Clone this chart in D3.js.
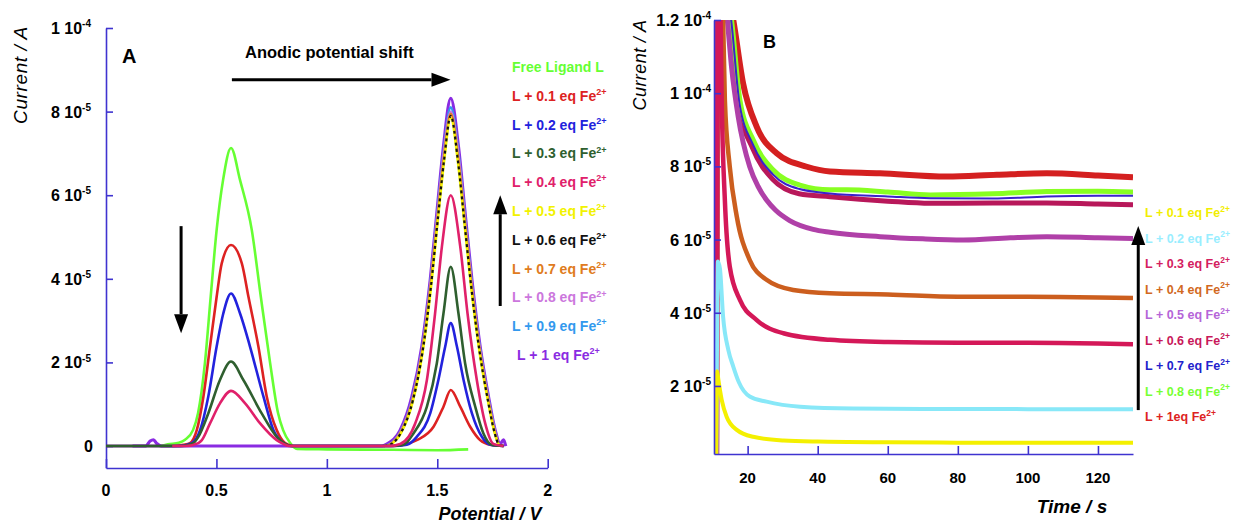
<!DOCTYPE html>
<html>
<head>
<meta charset="utf-8">
<script src="https://cdn.jsdelivr.net/npm/d3@7"></script>
<style>
  body { margin: 0; background: #fff; }
  svg text { font-family: "Liberation Sans", Arial, sans-serif; font-weight: bold; }
</style>
</head>
<body>
<div id="chart"></div>
<script>
// ---- panel A : voltammograms (potential V, current in 1e-5 A) ----
const ligandA = [[0.25,0],[0.28,0.04],[0.33,0.08],[0.358,0.15],[0.394,0.38],[0.417,0.79],[0.448,1.99],[0.474,3.57],[0.501,5.17],[0.530,6.36],[0.566,7.13],[0.607,6.36],[0.660,5.17],[0.701,3.57],[0.743,1.99],[0.779,0.79],[0.802,0.38],[0.834,0.07],[0.865,-0.07],[1.0,-0.08],[1.3,-0.09],[1.5,-0.1],[1.64,-0.08]];
const eq01A = [[0,0],[0.3,0],[0.35,0.03],[0.380,0.07],[0.411,0.38],[0.441,1.18],[0.471,2.38],[0.501,3.57],[0.524,4.37],[0.566,4.81],[0.615,4.37],[0.645,3.57],[0.690,2.38],[0.728,1.18],[0.773,0.38],[0.811,0.07],[0.85,0],[1.30,0],[1.362,0.05],[1.407,0.14],[1.483,0.46],[1.528,0.94],[1.561,1.34],[1.604,0.94],[1.649,0.46],[1.694,0.14],[1.740,0.03],[1.8,0]];
const eq02A = [[0,0],[0.33,0],[0.388,0.07],[0.426,0.38],[0.463,1.18],[0.501,2.38],[0.531,3.17],[0.566,3.65],[0.607,3.17],[0.652,2.38],[0.713,1.18],[0.758,0.38],[0.803,0.07],[0.84,0],[1.30,0],[1.362,0.03],[1.407,0.22],[1.468,0.78],[1.505,1.58],[1.536,2.38],[1.561,2.94],[1.589,2.38],[1.619,1.58],[1.657,0.78],[1.702,0.22],[1.740,0.03],[1.8,0]];
const eq03A = [[0,0],[0.34,0],[0.395,0.07],[0.418,0.22],[0.463,0.78],[0.516,1.58],[0.566,2.02],[0.622,1.58],[0.705,0.78],[0.773,0.22],[0.811,0.05],[0.84,0],[1.29,0],[1.347,0.03],[1.392,0.30],[1.453,0.94],[1.498,1.98],[1.528,3.17],[1.561,4.29],[1.596,3.17],[1.626,1.98],[1.672,0.94],[1.709,0.30],[1.747,0.03],[1.8,0]];
const eq04A = [[0.3,0],[0.36,0],[0.418,0.07],[0.434,0.14],[0.471,0.54],[0.516,1.02],[0.566,1.32],[0.630,1.02],[0.698,0.54],[0.773,0.14],[0.803,0.05],[0.83,0],[1.28,0],[1.332,0.05],[1.400,0.54],[1.453,1.58],[1.490,3.17],[1.521,4.77],[1.561,6.00],[1.604,4.77],[1.637,3.17],[1.679,1.58],[1.717,0.54],[1.754,0.05],[1.8,0]];
const eq05A = [[1.26,0],[1.285,0.03],[1.337,0.32],[1.390,1.08],[1.434,2.25],[1.471,3.75],[1.501,5.3],[1.531,6.8],[1.561,7.85],[1.593,6.8],[1.623,5.3],[1.654,3.75],[1.691,2.25],[1.729,1.08],[1.759,0.32],[1.78,0.03],[1.8,0]];
const eq06A = [[1.26,0],[1.285,0.03],[1.337,0.33],[1.390,1.1],[1.434,2.28],[1.471,3.8],[1.501,5.35],[1.531,6.85],[1.561,7.9],[1.593,6.85],[1.623,5.35],[1.654,3.8],[1.691,2.28],[1.729,1.1],[1.759,0.33],[1.78,0.03],[1.8,0]];
const eq07A = [[1.26,0],[1.283,0.03],[1.336,0.34],[1.389,1.12],[1.433,2.3],[1.470,3.85],[1.500,5.4],[1.530,6.9],[1.561,7.95],[1.594,6.9],[1.624,5.4],[1.655,3.85],[1.692,2.3],[1.730,1.12],[1.760,0.34],[1.78,0.03],[1.8,0]];
const eq08A = [[1.26,0],[1.282,0.03],[1.335,0.35],[1.388,1.13],[1.432,2.32],[1.469,3.88],[1.499,5.45],[1.529,7.0],[1.561,8.0],[1.595,7.0],[1.625,5.45],[1.656,3.88],[1.693,2.32],[1.731,1.13],[1.761,0.35],[1.78,0.03],[1.8,0]];
const eq09A = [[1.26,0],[1.28,0.03],[1.335,0.36],[1.388,1.15],[1.432,2.34],[1.469,3.9],[1.499,5.5],[1.529,7.05],[1.561,8.1],[1.595,7.05],[1.625,5.5],[1.656,3.9],[1.693,2.34],[1.731,1.15],[1.761,0.36],[1.78,0.03],[1.8,0]];
const eq10A = [[0.12,0],[0.18,0],[0.2,0.12],[0.215,0.15],[0.23,0.06],[0.25,0],[1.25,0],[1.272,0.05],[1.332,0.38],[1.385,1.18],[1.430,2.38],[1.468,3.97],[1.498,5.57],[1.528,7.16],[1.561,8.32],[1.596,7.16],[1.626,5.57],[1.657,3.97],[1.694,2.38],[1.732,1.18],[1.762,0.38],[1.785,0.05],[1.80,0.15],[1.81,0]];

const xTicksA = [0, 0.5, 1, 1.5, 2];
const xTickLabelsA = ["0", "0.5", "1", "1.5", "2"];
const yTicksA = [0, 2, 4, 6, 8, 10];
const yTickBaseA = ["0", "2 10", "4 10", "6 10", "8 10", "1 10"];
const yTickExpA = ["", "-5", "-5", "-5", "-5", "-4"];

const legendLabelsA = ["Free Ligand L", "L + 0.1 eq Fe", "L + 0.2 eq Fe", "L + 0.3 eq Fe", "L + 0.4 eq Fe", "L + 0.5 eq Fe",
  "L + 0.6 eq Fe", "L + 0.7 eq Fe", "L + 0.8 eq Fe", "L + 0.9 eq Fe", "L + 1 eq Fe"];
const legendColorsA = ["#66ff33", "#dd2222", "#2222dd", "#2f5f2f", "#e0206a", "#f2f200", "#111111", "#e07b20", "#cc77dd", "#3399ee", "#8a2be2"];

// ---- panel B : chronoamperograms (time s, current in 1e-5 A) ----
const eq01B = [[11.0,0.1],[11.3,2.4],[11.6,2.2],[12.6,1.62],[14.0,1.16],[16.9,0.80],[21.6,0.61],[30.2,0.51],[40,0.48],[60,0.46],[80,0.45],[100,0.45],[120,0.45],[130,0.45]];
const eq02B = [[11.1,0.1],[11.5,5.4],[12.1,5.2],[13.0,3.89],[14.5,2.98],[15.9,2.53],[17.5,2.1],[20.6,1.71],[25.4,1.57],[35,1.43],[50,1.38],[70,1.37],[90,1.37],[110,1.36],[130,1.36]];
const eq03B = [[11.2,0.1],[11.5,14],[12.2,12.5],[12.6,9.8],[13.5,7.08],[14.9,5.26],[17.8,4.35],[22.6,3.80],[30.2,3.44],[43.5,3.26],[60,3.2],[80,3.18],[100,3.18],[120,3.16],[130,3.14]];
const eq04B = [[11.2,0.1],[11.6,14],[13.0,12.0],[13.5,9.81],[14.9,7.99],[16.9,6.63],[20.6,5.44],[25.4,4.90],[33.0,4.62],[43.5,4.53],[60,4.5],[80,4.44],[100,4.44],[120,4.42],[130,4.40]];
const eq05B = [[11.2,0.1],[11.6,14],[14.2,12.0],[15.4,10.72],[17.3,9.36],[20.6,7.99],[23.0,7.45],[25.4,7.08],[28.0,6.8],[32.0,6.52],[38.7,6.28],[43.5,6.2],[57.8,6.08],[70,6.02],[81.6,5.99],[95,6.05],[105.4,6.08],[120,6.05],[130,6.03]];
const eq06B = [[11.0,0.1],[11.2,14],[15.2,12],[17.6,9.6],[21.4,8.5],[27.1,7.65],[34.7,7.25],[43.5,7.17],[60,7.05],[72.1,6.99],[90,7.0],[105.4,7.0],[120,6.97],[130,6.95]];
const eq07B = [[11.0,0.1],[11.2,14],[15.3,12],[17.7,9.7],[21.5,8.6],[27.2,7.78],[34.8,7.38],[43.5,7.26],[60,7.18],[72.1,7.13],[90,7.12],[105.4,7.18],[120,7.2],[130,7.2]];
const eq08B = [[11.0,0.1],[11.2,14],[15.4,12],[17.8,9.81],[21.6,8.72],[27.3,7.90],[34.9,7.49],[43.5,7.36],[48.3,7.36],[60,7.3],[72.1,7.22],[90,7.25],[105.4,7.31],[120,7.32],[130,7.30]];
const eq10B = [[10.8,0.1],[11.0,14],[15.9,12.0],[18.7,10.27],[22.6,9.08],[28.3,8.36],[36.9,7.99],[43.5,7.86],[57.8,7.81],[76.9,7.72],[91.1,7.77],[105.4,7.81],[120,7.75],[130,7.70]];

const xTicksB = [20, 40, 60, 80, 100, 120];
const yTicksB = [2, 4, 6, 8, 10, 12];
const yTickBaseB = ["2 10", "4 10", "6 10", "8 10", "1 10", "1.2 10"];
const yTickExpB = ["-5", "-5", "-5", "-5", "-4", "-4"];

const legendLabelsB = ["L + 0.1 eq Fe", "L + 0.2 eq Fe", "L + 0.3 eq Fe", "L + 0.4 eq Fe", "L + 0.5 eq Fe",
  "L + 0.6 eq Fe", "L + 0.7 eq Fe", "L + 0.8 eq Fe", "L + 1eq Fe"];
const legendColorsB = ["#f2ee00", "#99eeff", "#d42060", "#d2691e", "#b565d8", "#c8185a", "#2222cc", "#77ff33", "#dd2222"];

const axisColor = "#3f33d0";

const svg = d3.select("#chart").append("svg")
    .attr("width", 1233)
    .attr("height", 526);
svg.append("rect").attr("width", 1233).attr("height", 526).attr("fill", "#fff");

// arrow helper (annotation)
function arrow(x1, y1, x2, y2) {
    const ang = Math.atan2(y2 - y1, x2 - x1), L = 19, W = 7;
    const bx = x2 - L * Math.cos(ang), by = y2 - L * Math.sin(ang);
    svg.append("line").attr("x1", x1).attr("y1", y1).attr("x2", bx).attr("y2", by)
        .attr("stroke", "#000").attr("stroke-width", 3);
    const p = [[x2, y2],
        [bx + W * Math.sin(ang), by - W * Math.cos(ang)],
        [bx - W * Math.sin(ang), by + W * Math.cos(ang)]];
    svg.append("polygon").attr("points", p.map(d => d.join(",")).join(" ")).attr("fill", "#000");
}

function supText(g, x, y, base, exp, size, anchor, color, supSize) {
    const t = g.append("text").attr("x", x).attr("y", y)
        .attr("text-anchor", anchor).attr("fill", color).style("font-size", size + "px");
    t.append("tspan").text(base);
    if (exp) t.append("tspan").attr("dy", -size * 0.42).style("font-size", supSize + "px").text(exp);
    return t;
}

// ================= Panel A =================
const xA = d3.scaleLinear().domain([0, 2]).range([106, 547.7]);
const yA = d3.scaleLinear().domain([-0.526, 10]).range([468, 28]);

const gA = svg.append("g");
gA.append("g").attr("transform", "translate(0,468)")
    .call(d3.axisBottom(xA).tickValues(xTicksA).tickSize(-9).tickSizeOuter(0).tickFormat(""))
    .call(g => g.selectAll("path,line").attr("stroke", axisColor).attr("stroke-width", 1.6));
gA.append("g").attr("transform", "translate(106,0)")
    .call(d3.axisLeft(yA).tickValues(yTicksA).tickSize(-7).tickSizeOuter(0).tickFormat(""))
    .call(g => g.selectAll("path,line").attr("stroke", axisColor).attr("stroke-width", 1.6));

xTicksA.forEach((v, i) => {
    gA.append("text").attr("x", xA(v)).attr("y", 496).attr("text-anchor", "middle")
        .style("font-size", "16px").text(xTickLabelsA[i]);
});
yTicksA.forEach((v, i) => {
    supText(gA, i === 0 ? 93 : 91, yA(v) + 6, yTickBaseA[i], yTickExpA[i], 16, "end", "#000", 10);
});

gA.append("text").attr("transform", "translate(27,75) rotate(-90)").attr("text-anchor", "middle")
    .style("font-size", "19px").style("font-style", "italic").style("font-weight", "normal")
    .style("letter-spacing", "0.6px").text("Current / A");
gA.append("text").attr("x", 490).attr("y", 520).attr("text-anchor", "middle")
    .style("font-size", "18px").style("font-style", "italic").text("Potential / V");
gA.append("text").attr("x", 122).attr("y", 63).style("font-size", "20px").text("A");
gA.append("text").attr("x", 245).attr("y", 58).style("font-size", "16.5px").text("Anodic potential shift");

const lineA = d3.line().x(d => xA(d[0])).y(d => yA(d[1])).curve(d3.curveMonotoneX);
const seriesA = [
    {d: eq10A, c: "#8a2be2", w: 3.2},
    {d: eq09A, c: "#3399ee", w: 2.6},
    {d: eq08A, c: "#cc77dd", w: 2.4},
    {d: eq07A, c: "#e07b20", w: 2.4},
    {d: eq05A, c: "#f2f200", w: 2.4},
    {d: eq06A, c: "#111111", w: 2.2, dash: "3,3"},
    {d: ligandA, c: "#66ff33", w: 2.6},
    {d: eq01A, c: "#dd2222", w: 2.6},
    {d: eq02A, c: "#2222dd", w: 2.6},
    {d: eq03A, c: "#2f5f2f", w: 2.6},
    {d: eq04A, c: "#e0206a", w: 2.6}
];
seriesA.forEach(s => {
    gA.append("path").datum(s.d).attr("fill", "none").attr("stroke", s.c)
        .attr("stroke-width", s.w).attr("stroke-dasharray", s.dash || null)
        .attr("stroke-linejoin", "round").attr("d", lineA);
});

legendLabelsA.forEach((lab, i) => {
    const y = 72 + i * 28.8;
    supText(gA, i === 10 ? 517 : 512, y, lab, i === 0 ? "" : "2+", 14, "start", legendColorsA[i], 9);
});

arrow(xA(0.57), yA(8.76), xA(1.56), yA(8.76));
arrow(xA(0.34), yA(5.26), xA(0.34), yA(2.70));
arrow(xA(1.785), yA(3.35), xA(1.785), yA(6.0));

// ================= Panel B =================
const xB = d3.scaleLinear().domain([10.4, 130]).range([714, 1133]);
const yB = d3.scaleLinear().domain([0.14, 12]).range([454, 20]);

const gB = svg.append("g");
gB.append("clipPath").attr("id", "clipB").append("rect")
    .attr("x", 714).attr("y", 20).attr("width", 419).attr("height", 434);

const lineB = d3.line().x(d => xB(d[0])).y(d => yB(d[1])).curve(d3.curveMonotoneX);
const seriesB = [
    {d: eq10B, c: "#d42020", w: 6},
    {d: eq06B, c: "#b8185a", w: 5},
    {d: eq08B, c: "#88ff22", w: 5},
    {d: eq07B, c: "#3a22cc", w: 2},
    {d: eq05B, c: "#b040a8", w: 5},
    {d: eq04B, c: "#cc5e1e", w: 4.5},
    {d: eq03B, c: "#d41858", w: 4.5},
    {d: eq02B, c: "#88e8f8", w: 4},
    {d: eq01B, c: "#f4f000", w: 4}
];
const plotB = gB.append("g").attr("clip-path", "url(#clipB)");
seriesB.forEach(s => {
    plotB.append("path").datum(s.d).attr("fill", "none").attr("stroke", s.c)
        .attr("stroke-width", s.w).attr("stroke-linejoin", "round").attr("d", lineB);
});

gB.append("g").attr("transform", "translate(0,454)")
    .call(d3.axisBottom(xB).tickValues(xTicksB).tickSize(-8).tickSizeOuter(0).tickFormat(""))
    .call(g => g.selectAll("path,line").attr("stroke", axisColor).attr("stroke-width", 1.6));
gB.append("g").attr("transform", "translate(714,0)")
    .call(d3.axisLeft(yB).tickValues(yTicksB).tickSize(-7).tickSizeOuter(0).tickFormat(""))
    .call(g => g.selectAll("path,line").attr("stroke", axisColor).attr("stroke-width", 1.6));

xTicksB.forEach(v => {
    gB.append("text").attr("x", xB(v)).attr("y", 483).attr("text-anchor", "middle")
        .style("font-size", "15px").text(v);
});
yTicksB.forEach((v, i) => {
    supText(gB, 711, yB(v) + 6, yTickBaseB[i], yTickExpB[i], 16.5, "end", "#000", 10);
});

gB.append("text").attr("transform", "translate(646,65) rotate(-90)").attr("text-anchor", "middle")
    .style("font-size", "18px").style("font-style", "italic").style("font-weight", "normal")
    .style("letter-spacing", "0.4px").text("Current / A");
gB.append("text").attr("x", 1072).attr("y", 513).attr("text-anchor", "middle")
    .style("font-size", "19px").style("font-style", "italic").text("Time / s");
gB.append("text").attr("x", 763).attr("y", 48).style("font-size", "18px").text("B");

legendLabelsB.forEach((lab, i) => {
    const y = 217 + i * 25.5;
    supText(gB, 1145, y, lab, "2+", 12.5, "start", legendColorsB[i], 8.5);
});

arrow(xB(131.5), yB(1.34), xB(131.5), yB(6.37));
</script>
</body>
</html>
